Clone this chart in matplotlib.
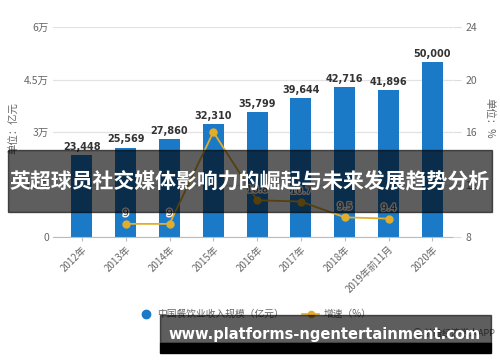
import matplotlib.pyplot as plt
import matplotlib.patches as patches
import matplotlib.patheffects as pe
import numpy as np

plt.rcParams['font.family'] = ['Noto Sans CJK SC', 'DejaVu Sans']

# data
years = ['2012年', '2013年', '2014年', '2015年', '2016年', '2017年', '2018年', '2019年前11月', '2020年']
revenue = [23448, 25569, 27860, 32310, 35799, 39644, 42716, 41896, 50000]
growth_idx = [1, 2, 3, 4, 5, 6, 7]
growth = [9.0, 9.0, 16.0, 10.8, 10.7, 9.5, 9.4]
growth_labels = ['9', '9', '', '10.8', '10.7', '9.5', '9.4']
left_ticks = [0, 15000, 30000, 45000, 60000]
left_ticklabels = ['0', '1.5万', '3万', '4.5万', '6万']
right_ticks = [8, 12, 16, 20, 24]

blue = '#1a7ac8'
gold = '#e3ad2a'
grey = '#666666'

fig = plt.figure(figsize=(5, 3.62), dpi=100)
ax = fig.add_axes([53/500, 1-237/362, 400/500, 210/362])
ax2 = ax.twinx()

x = np.arange(len(years))
ax.bar(x, revenue, width=0.48, color=blue, zorder=2)
for i, v in enumerate(revenue):
    ax.text(i, v + 900, f'{v:,}', ha='center', va='bottom', fontsize=7,
            fontweight='bold', color='#333333', family='DejaVu Sans')

ax.set_xlim(-0.66, 8.47)
ax.set_ylim(0, 60000)
ax.set_yticks(left_ticks)
ax.set_yticklabels(left_ticklabels, fontsize=7.5, color=grey)
ax.yaxis.grid(True, color='#e2e2e2', linewidth=0.9, zorder=0)
ax.set_axisbelow(True)
ax.set_xticks(x)
ax.set_xticklabels(years, rotation=45, ha='right', rotation_mode='anchor',
                   fontsize=7, color=grey)
for s in ['top', 'left', 'right']:
    ax.spines[s].set_visible(False)
ax.spines['bottom'].set_color('#bbbbbb')
ax.tick_params(axis='y', length=0, pad=3)
ax.tick_params(axis='x', length=3, color='#bbbbbb', pad=2)

ax2.plot(growth_idx, growth, color=gold, linewidth=1.3, marker='o',
         markersize=5, zorder=3)
for i, g, t in zip(growth_idx, growth, growth_labels):
    ax2.text(i, g + 0.45, t, ha='center', va='bottom', fontsize=7,
             color='#444444', family='DejaVu Sans', zorder=4,
             path_effects=[pe.withStroke(linewidth=2, foreground='white')])
ax2.set_ylim(8, 24)
ax2.set_yticks(right_ticks)
ax2.set_yticklabels([str(t) for t in right_ticks], fontsize=7.5, color=grey)
for s in ['top', 'left', 'right', 'bottom']:
    ax2.spines[s].set_visible(False)
ax2.tick_params(axis='y', length=6, color='#dddddd', pad=3)

fig.text(14/500, 1-128/362, '单位：亿元', rotation=90, ha='center', va='center',
         fontsize=7.5, color=grey)
fig.text(489/500, 1-118/362, '单位：%', rotation=-90, ha='center', va='center',
         fontsize=7.5, color=grey)

# legend
fig.lines.append(plt.Line2D([146/500], [1-314/362], marker='o', markersize=6,
                            color=blue, transform=fig.transFigure))
fig.text(157/500, 1-314/362, '中国餐饮业收入规模（亿元）', ha='left', va='center',
         fontsize=7, color=grey)
fig.lines.append(plt.Line2D([302/500, 319/500], [1-314/362, 1-314/362],
                            color=gold, linewidth=1.2, transform=fig.transFigure))
fig.lines.append(plt.Line2D([310.5/500], [1-314/362], marker='o', markersize=4.5,
                            color=gold, transform=fig.transFigure))
fig.text(324/500, 1-314/362, '增速（%）', ha='left', va='center',
         fontsize=7, color=grey)
fig.text(495/500, 1-333/362, '◎ 前瞻经济学人APP', ha='right', va='center',
         fontsize=6.5, color=grey)

# title band
fig.patches.append(patches.Rectangle((8/500, 1-212/362), 484/500, 62/362,
                                     transform=fig.transFigure, color='black',
                                     alpha=0.63, zorder=10))
fig.text(250/500, 1-182/362, '英超球员社交媒体影响力的崛起与未来发展趋势分析',
         ha='center', va='center', fontsize=15, fontweight='bold',
         color='white', zorder=11)

# bottom banner
fig.patches.append(patches.Rectangle((160/500, 1-343/362), 331/500, 28/362,
                                     transform=fig.transFigure, color='black',
                                     alpha=0.63, zorder=10))
fig.patches.append(patches.Rectangle((160/500, 1-353/362), 331/500, 10/362,
                                     transform=fig.transFigure, color='black',
                                     zorder=10))
fig.text(325/500, 1-335/362, 'www.platforms-ngentertainment.com', ha='center',
         va='center', fontsize=10.5, fontweight='bold', color='white',
         family='DejaVu Sans', zorder=11)

fig.savefig('out.png', dpi=100)
